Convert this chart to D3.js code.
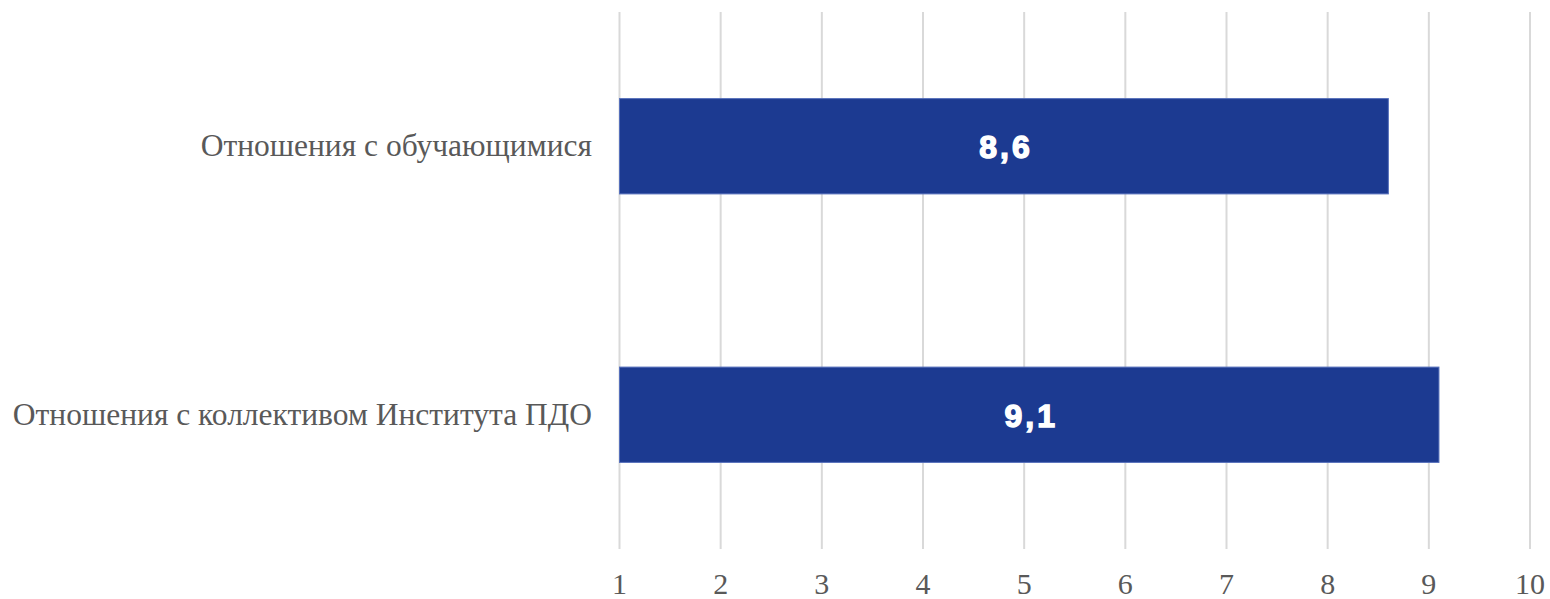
<!DOCTYPE html>
<html>
<head>
<meta charset="utf-8">
<script src="https://cdn.jsdelivr.net/npm/d3@7"></script>
<style>
  body { margin: 0; background: #fff; }
</style>
</head>
<body>
<script>
var categories = ["Отношения с обучающимися", "Отношения с коллективом Института ПДО"];
var values = [8.6, 9.1];
var valueLabels = ["8,6", "9,1"];
var ticks = [1, 2, 3, 4, 5, 6, 7, 8, 9, 10];

var serif = "'Liberation Serif', 'Times New Roman', Times, serif";

var width = 1550,
    height = 599;

var svg = d3.select("body").append("svg")
    .attr("width", width)
    .attr("height", height);

var x = d3.scaleLinear()
    .domain([1, 10])
    .range([619.5, 1530]);

var y = d3.scaleBand()
    .domain(categories)
    .range([12, 549])
    .paddingInner(0.645)
    .paddingOuter(0.3225);

// gridlines
svg.append("g")
  .selectAll("line")
    .data(ticks)
  .enter().append("line")
    .attr("x1", function(d) { return x(d); })
    .attr("x2", function(d) { return x(d); })
    .attr("y1", 12)
    .attr("y2", 549)
    .attr("stroke", "#d9d9d9")
    .attr("stroke-width", 2);

// tick labels
svg.append("g")
  .selectAll("text")
    .data(ticks)
  .enter().append("text")
    .attr("x", function(d) { return x(d); })
    .attr("y", 594)
    .attr("text-anchor", "middle")
    .attr("fill", "#595959")
    .attr("font-family", serif)
    .attr("font-size", 30)
    .text(function(d) { return d; });

// bars
svg.append("g")
  .selectAll("rect")
    .data(values)
  .enter().append("rect")
    .attr("x", x(1))
    .attr("y", function(d, i) { return y(categories[i]); })
    .attr("width", function(d) { return x(d) - x(1); })
    .attr("height", y.bandwidth())
    .attr("fill", "#1c3a91")
    .attr("stroke", "#5670bb")
    .attr("stroke-width", 1);

// value labels
svg.append("g")
  .selectAll("text")
    .data(values)
  .enter().append("text")
    .attr("x", function(d) { return (x(d) + x(1)) / 2 + 2; })
    .attr("y", function(d, i) { return y(categories[i]) + y.bandwidth() / 2 + 12; })
    .attr("text-anchor", "middle")
    .attr("fill", "#fff")
    .attr("font-family", "'Liberation Sans', Arial, sans-serif")
    .attr("font-weight", "bold")
    .attr("font-size", 32)
    .attr("letter-spacing", 3)
    .attr("stroke", "#fff")
    .attr("stroke-width", 1.4)
    .text(function(d, i) { return valueLabels[i]; });

// category labels
svg.append("g")
  .selectAll("text")
    .data(categories)
  .enter().append("text")
    .attr("x", 592)
    .attr("y", function(d) { return y(d) + y.bandwidth() / 2 + 10; })
    .attr("text-anchor", "end")
    .attr("fill", "#595959")
    .attr("font-family", serif)
    .attr("font-size", 31.5)
    .text(function(d) { return d; });
</script>
</body>
</html>
